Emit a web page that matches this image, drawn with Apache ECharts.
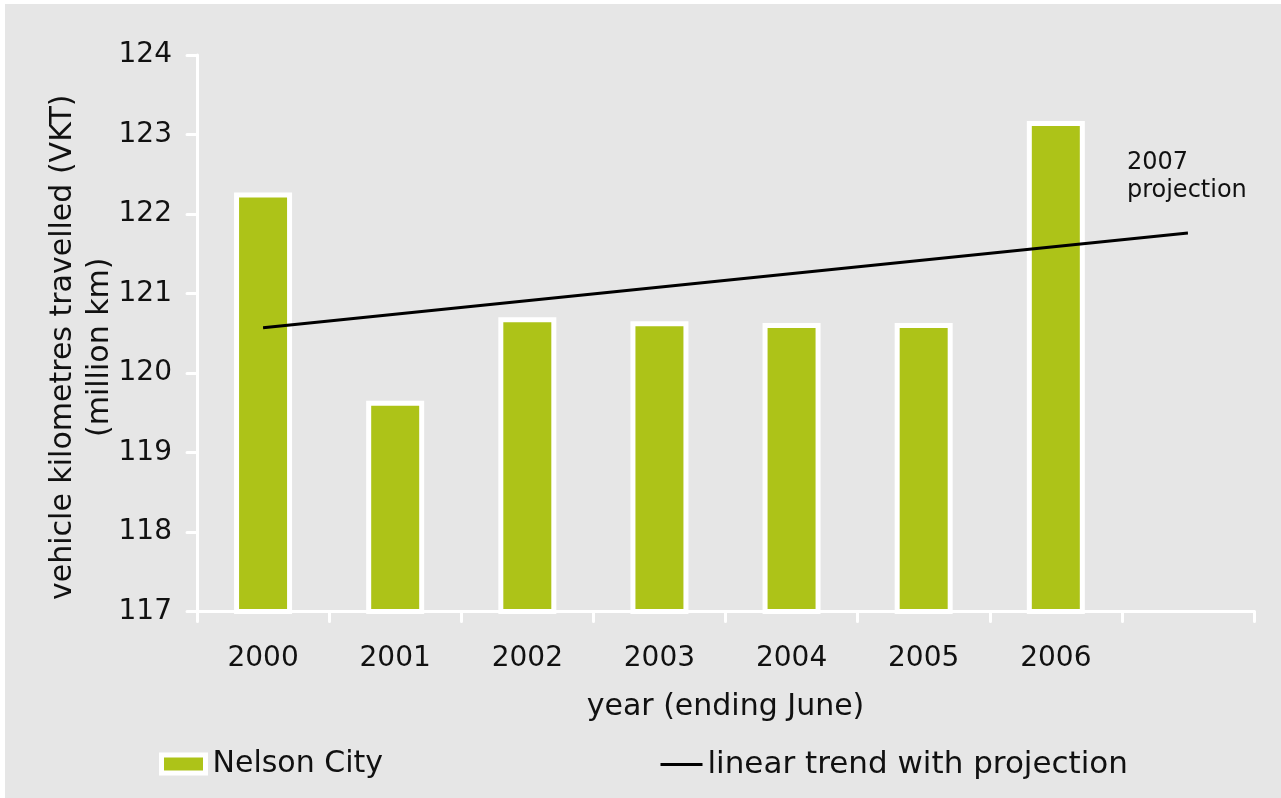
<!DOCTYPE html>
<html>
<head>
<meta charset="utf-8">
<script src="https://cdn.jsdelivr.net/npm/echarts@6/dist/echarts.min.js"></script>
<style>
  html, body { margin: 0; padding: 0; background: #ffffff; width: 1281px; height: 798px; overflow: hidden; }
  #c { position: absolute; left: 5px; top: 4px; width: 1276px; height: 794px; }
</style>
</head>
<body>
<div id="c"></div>
<script>
// ---- data ----
const categories = ['2000', '2001', '2002', '2003', '2004', '2005', '2006', '2007'];
const nelsonCity = [122.27, 119.65, 120.70, 120.65, 120.63, 120.63, 123.17];
// straight trend line: values read at its two ends (2000 and 2007)
const trendLine = [120.57, null, null, null, null, null, null, 121.76];
const yTicks = { min: 117, max: 124, interval: 1 };
const hiddenCategoryLabel = '2007';

const FONT = 'DejaVu Sans';
const TXT = '#111111';

const chart = echarts.init(document.getElementById('c'));
chart.setOption({
  backgroundColor: '#e6e6e6',
  animation: false,
  textStyle: { fontFamily: FONT, color: TXT },
  grid: { left: 192, right: 27, top: 51, bottom: 186.5, containLabel: false },
  legend: [
    {
      data: [{ name: 'Nelson City', icon: 'rect' }],
      left: 154, top: 745, padding: 0,
      itemWidth: 44, itemHeight: 18,
      itemStyle: { borderColor: '#ffffff', borderWidth: 5 },
      textStyle: { fontFamily: FONT, fontSize: 30, color: TXT, lineHeight: 30, padding: [0, 0, 0, 2] }
    },
    {
      data: ['linear trend with projection'],
      left: 654, top: 745, padding: 0,
      itemWidth: 42, itemHeight: 18,
      itemStyle: { color: 'rgba(0,0,0,0)', borderWidth: 0, opacity: 0 },
      lineStyle: { color: '#000000', width: 3 },
      textStyle: { fontFamily: FONT, fontSize: 31, color: TXT, lineHeight: 30 }
    }
  ],
  xAxis: {
    type: 'category',
    data: categories,
    boundaryGap: true,
    name: 'year (ending June)',
    nameLocation: 'middle',
    nameGap: 81,
    nameTextStyle: { fontFamily: FONT, fontSize: 30, color: TXT },
    axisLine: { show: true, lineStyle: { color: '#ffffff', width: 3, cap: 'round' } },
    axisTick: { show: true, inside: false, length: 10, alignWithLabel: false,
                lineStyle: { color: '#ffffff', width: 3, cap: 'round' } },
    axisLabel: { fontFamily: FONT, fontSize: 28, color: TXT, margin: 33,
                 formatter: v => (v === hiddenCategoryLabel ? '' : v) },
    splitLine: { show: false }
  },
  yAxis: {
    type: 'value',
    min: yTicks.min, max: yTicks.max, interval: yTicks.interval,
    name: 'vehicle kilometres travelled (VKT)\n(million km)',
    nameLocation: 'middle',
    nameRotate: 90,
    nameGap: 78,
    nameMoveOverlap: false,
    nameTextStyle: { fontFamily: FONT, fontSize: 30, color: TXT, lineHeight: 37, align: 'center', padding: [0, 28, 0, 0] },
    axisLine: { show: true, lineStyle: { color: '#ffffff', width: 3, cap: 'round' } },
    axisTick: { show: true, inside: false, length: 10,
                lineStyle: { color: '#ffffff', width: 3, cap: 'round' } },
    axisLabel: { fontFamily: FONT, fontSize: 28, color: TXT, margin: 25 },
    splitLine: { show: false }
  },
  series: [
    {
      name: 'Nelson City',
      type: 'bar',
      data: nelsonCity,
      barWidth: 58,
      itemStyle: { color: '#adc318', borderColor: '#ffffff', borderWidth: 5 },
      z: 2
    },
    {
      name: 'linear trend with projection',
      type: 'line',
      data: trendLine,
      connectNulls: true,
      symbol: 'none',
      lineStyle: { color: '#000000', width: 3 },
      itemStyle: { color: '#000000' },
      z: 3,
      markPoint: {
        symbol: 'circle',
        symbolSize: 0,
        data: [{
          coord: [categories[7], trendLine[7]],
          label: {
            show: true,
            position: 'top',
            distance: 28,
            align: 'left',
            offset: [-61, 0],
            formatter: '2007\nprojection',
            fontFamily: FONT,
            fontSize: 24,
            lineHeight: 28,
            color: TXT
          }
        }]
      }
    }
  ]
});
</script>
</body>
</html>
